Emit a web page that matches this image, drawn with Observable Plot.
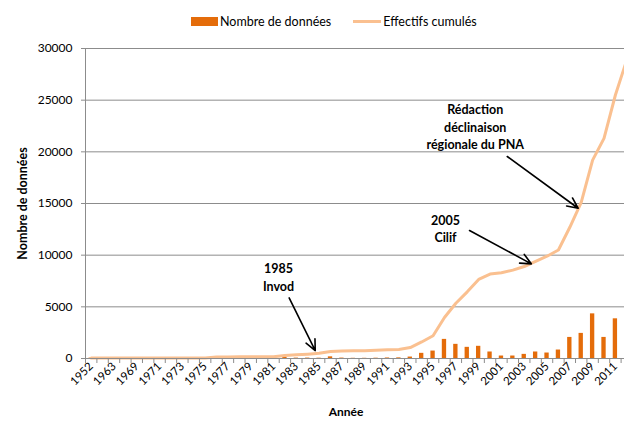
<!DOCTYPE html>
<html><head><meta charset="utf-8">
<script src="https://cdn.jsdelivr.net/npm/d3@7"></script>
<script src="https://cdn.jsdelivr.net/npm/@observablehq/plot@0.6"></script>
<style>
body{margin:0;background:#fff;overflow:hidden;}
#wrap{position:relative;width:624px;height:421px;overflow:hidden;font-family:Lato, "Open Sans", sans-serif;background:#fff;}
#chart{position:absolute;left:0;top:0;width:632px;}
#chart svg{max-width:none !important;}
#legend{position:absolute;top:14px;left:191px;display:flex;align-items:center;font-size:12.5px;color:#000;white-space:nowrap;}
.sw-bar{display:inline-block;width:27px;height:9px;background:#E46C0A;margin-right:2px;}
.sw-line{display:inline-block;width:28px;height:3px;background:#FAC090;margin-left:22px;margin-right:2px;}
</style></head>
<body>
<div id="wrap">
  <div id="chart"></div>
  <div id="legend"><span class="sw-bar"></span><span>Nombre de données</span><span class="sw-line"></span><span>Effectifs cumulés</span></div>
</div>
<script>
const years = ["1952","1961","1963","1967","1969","1970","1971","1972","1973","1974","1975","1976","1977","1978","1979","1980","1981","1982","1983","1984","1985","1986","1987","1988","1989","1990","1991","1992","1993","1994","1995","1996","1997","1998","1999","2000","2001","2002","2003","2004","2005","2006","2007","2008","2009","2010","2011","2012"];
const counts = [40,0,0,0,0,0,0,0,0,0,20,90,5,10,10,10,20,100,40,40,30,160,40,20,20,30,50,60,140,500,720,1850,1370,1080,1180,630,240,240,400,630,530,820,2040,2430,4320,2040,3840,3500];
const cumul = [40,40,40,40,40,40,40,40,40,40,60,150,155,160,165,170,180,290,360,420,500,680,720,740,760,790,840,880,1060,1600,2200,3970,5350,6450,7650,8170,8300,8550,8900,9400,9900,10500,12700,15100,19200,21300,25500,28900];
const yTicks = [0,5000,10000,15000,20000,25000,30000];

const noteLabels = ["1985\nInvod", "2005\nCilif", "Rédaction\ndéclinaison\nrégionale du PNA"];
const noteX = [16.44, 31.09, 33.7];
const noteY = [7920, 12650, 22500];
const arrowX1 = [17.37, 33.2, 36.51];
const arrowY1 = [5870, 12390, 19550];
const arrowX2 = [19.66, 38.62, 42.73];
const arrowY2 = [770, 9160, 14540];

const n = years.length;
const idx = d3.range(n);
const data = idx.map(i => ({i, year: years[i], count: counts[i], cumul: cumul[i]}));
const labelIdx = idx.filter(i => i % 2 === 0);
const boundaries = d3.range(-1, n).map(i => i + 0.5);
const notes = noteLabels.map((t, k) => ({t, x: noteX[k], y: noteY[k]}));
const arrows = arrowX1.map((_, k) => ({x1: arrowX1[k], y1: arrowY1[k], x2: arrowX2[k], y2: arrowY2[k]}));

const grey = "#8c8c8c";
const chart = Plot.plot({
  width: 632, height: 421,
  marginLeft: 85, marginRight: 0, marginTop: 48, marginBottom: 63,
  style: {fontFamily: "Lato, 'Open Sans', sans-serif", fontSize: "12px", color: "#000", background: "#fff", maxWidth: "none"},
  x: {type: "linear", domain: [-0.5, n - 0.5]},
  y: {domain: [0, 30000]},
  marks: [
    Plot.ruleY(yTicks.slice(1), {stroke: grey, strokeWidth: 1}),
    Plot.rectY(data, {x1: d => d.i - 0.19, x2: d => d.i + 0.19, y: "count", fill: "#E46C0A"}),
    Plot.line(data, {x: "i", y: "cumul", stroke: "#FAC090", strokeWidth: 3}),
    Plot.ruleY([0], {stroke: grey}),
    Plot.ruleX([-0.5], {stroke: grey}),
    Plot.axisY(yTicks, {tickSize: 4, tickPadding: 9, tickFormat: d => String(d), stroke: grey, fill: "#000", label: null, fontSize: 12}),
    Plot.axisX(labelIdx, {tickRotate: -45, tickSize: 0, tickPadding: 6, tickFormat: i => years[i], label: null, fill: "#000", fontSize: 11.5}),
    Plot.axisX(boundaries, {tickSize: 5, tickPadding: 0, tickFormat: () => "", stroke: grey, label: null}),
    Plot.text(notes, {x: "x", y: "y", text: "t", fontWeight: "bold", fontSize: 12.5, lineHeight: 1.42, fill: "#000"}),
    Plot.arrow(arrows, {x1: "x1", y1: "y1", x2: "x2", y2: "y2", stroke: "#000", strokeWidth: 1.6, headLength: 11, headAngle: 50}),
    Plot.text(["Année"], {frameAnchor: "bottom", textAnchor: "middle", lineAnchor: "middle", dy: 54, dx: -13, fontWeight: "bold", fontSize: 12, fill: "#000"}),
    Plot.text(["Nombre de données"], {frameAnchor: "left", textAnchor: "middle", lineAnchor: "middle", rotate: -90, dx: -63, dy: 0, fontWeight: "bold", fontSize: 12.5, fill: "#000"})
  ]
});
document.getElementById("chart").appendChild(chart);
</script>
</body></html>
